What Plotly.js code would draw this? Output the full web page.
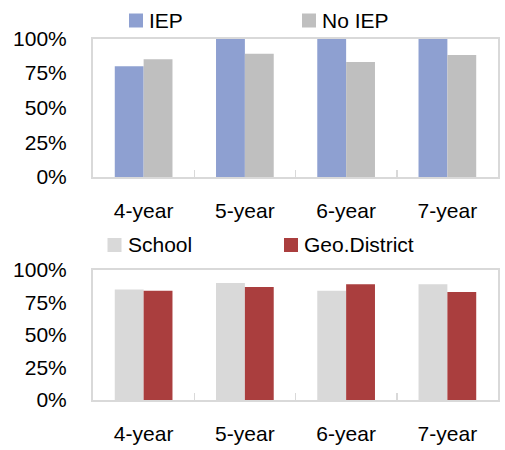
<!DOCTYPE html>
<html>
<head>
<meta charset="utf-8">
<script src="https://cdn.plot.ly/plotly-3.0.1.min.js"></script>
<style>html,body{margin:0;padding:0;background:#fff;}#chart{width:505px;height:450px;}</style>
</head>
<body>
<div id="chart"></div>
<script>
var categories = ["4-year", "5-year", "6-year", "7-year"];
var iep = [0.80, 1.00, 1.00, 1.00];
var noIep = [0.85, 0.89, 0.83, 0.88];
var school = [0.85, 0.90, 0.84, 0.89];
var geoDistrict = [0.84, 0.87, 0.89, 0.83];
var yTicks = [0, 0.25, 0.5, 0.75, 1];
var seriesNames = ["IEP", "No IEP", "School", "Geo.District"];
var seriesColors = ["#8ea0d1", "#bfbfbf", "#d9d9d9", "#aa3e3e"];

var W = 505, H = 450, ML = 93, MR = 7;
var PW = W - ML - MR;
function px2x(px) { return (px - ML) / PW; }
function py2y(py) { return (H - py) / H; }

var font = {family: "Liberation Sans, Arial, sans-serif", size: 21, color: "#000"};

var traces = [
  {type: "bar", name: seriesNames[0], x: categories, y: iep, xaxis: "x", yaxis: "y",
   marker: {color: seriesColors[0]}, showlegend: false},
  {type: "bar", name: seriesNames[1], x: categories, y: noIep, xaxis: "x", yaxis: "y",
   marker: {color: seriesColors[1]}, showlegend: false},
  {type: "bar", name: seriesNames[2], x: categories, y: school, xaxis: "x2", yaxis: "y2",
   marker: {color: seriesColors[2]}, showlegend: false},
  {type: "bar", name: seriesNames[3], x: categories, y: geoDistrict, xaxis: "x2", yaxis: "y2",
   marker: {color: seriesColors[3]}, showlegend: false}
];

function xAx(anchor) {
  return {anchor: anchor, domain: [0, 1], type: "category", showline: true, linecolor: "#d9d9d9",
    linewidth: 2, mirror: true, ticks: "inside", tickson: "boundaries", ticklen: 7,
    tickcolor: "#d9d9d9", tickwidth: 1.5, showgrid: false, tickfont: font, ticklabelstandoff: 14,
    fixedrange: true};
}
function yAx(anchor, dom) {
  return {anchor: anchor, domain: dom, range: [0, 1], tickvals: yTicks, tickformat: ".0%",
    showline: true, linecolor: "#d9d9d9", linewidth: 2, mirror: true, ticks: "",
    showgrid: false, zeroline: false, tickfont: font, ticklabelstandoff: 20, fixedrange: true};
}

// Custom legends (swatch squares + text), positioned in pixels
var legendItems = [
  {name: seriesNames[0], color: seriesColors[0], sx: 129, sy: 13.5, tx: 147, ty: 20.5},
  {name: seriesNames[1], color: seriesColors[1], sx: 302, sy: 13.5, tx: 320, ty: 20.5},
  {name: seriesNames[2], color: seriesColors[2], sx: 107.5, sy: 238, tx: 125.5, ty: 244.8},
  {name: seriesNames[3], color: seriesColors[3], sx: 284, sy: 238, tx: 301.5, ty: 244.8}
];
var shapes = [], annotations = [];
legendItems.forEach(function (it) {
  shapes.push({type: "rect", xref: "paper", yref: "paper",
    x0: px2x(it.sx), x1: px2x(it.sx + 14), y0: py2y(it.sy + 14), y1: py2y(it.sy),
    fillcolor: it.color, line: {width: 0}});
  annotations.push({xref: "paper", yref: "paper", x: px2x(it.tx), y: py2y(it.ty),
    xanchor: "left", yanchor: "middle", text: it.name, showarrow: false, font: font});
});

var layout = {
  width: W, height: H,
  margin: {l: ML, r: MR, t: 0, b: 0},
  paper_bgcolor: "#fff", plot_bgcolor: "#fff",
  font: font,
  showlegend: false,
  barmode: "group", bargap: 0.43, bargroupgap: 0,
  xaxis: xAx("y"), yaxis: yAx("x", [py2y(177), py2y(38.5)]),
  xaxis2: xAx("y2"), yaxis2: yAx("x2", [py2y(400), py2y(270)]),
  shapes: shapes,
  annotations: annotations
};

Plotly.newPlot("chart", traces, layout, {displayModeBar: false, staticPlot: true});
</script>
</body>
</html>
